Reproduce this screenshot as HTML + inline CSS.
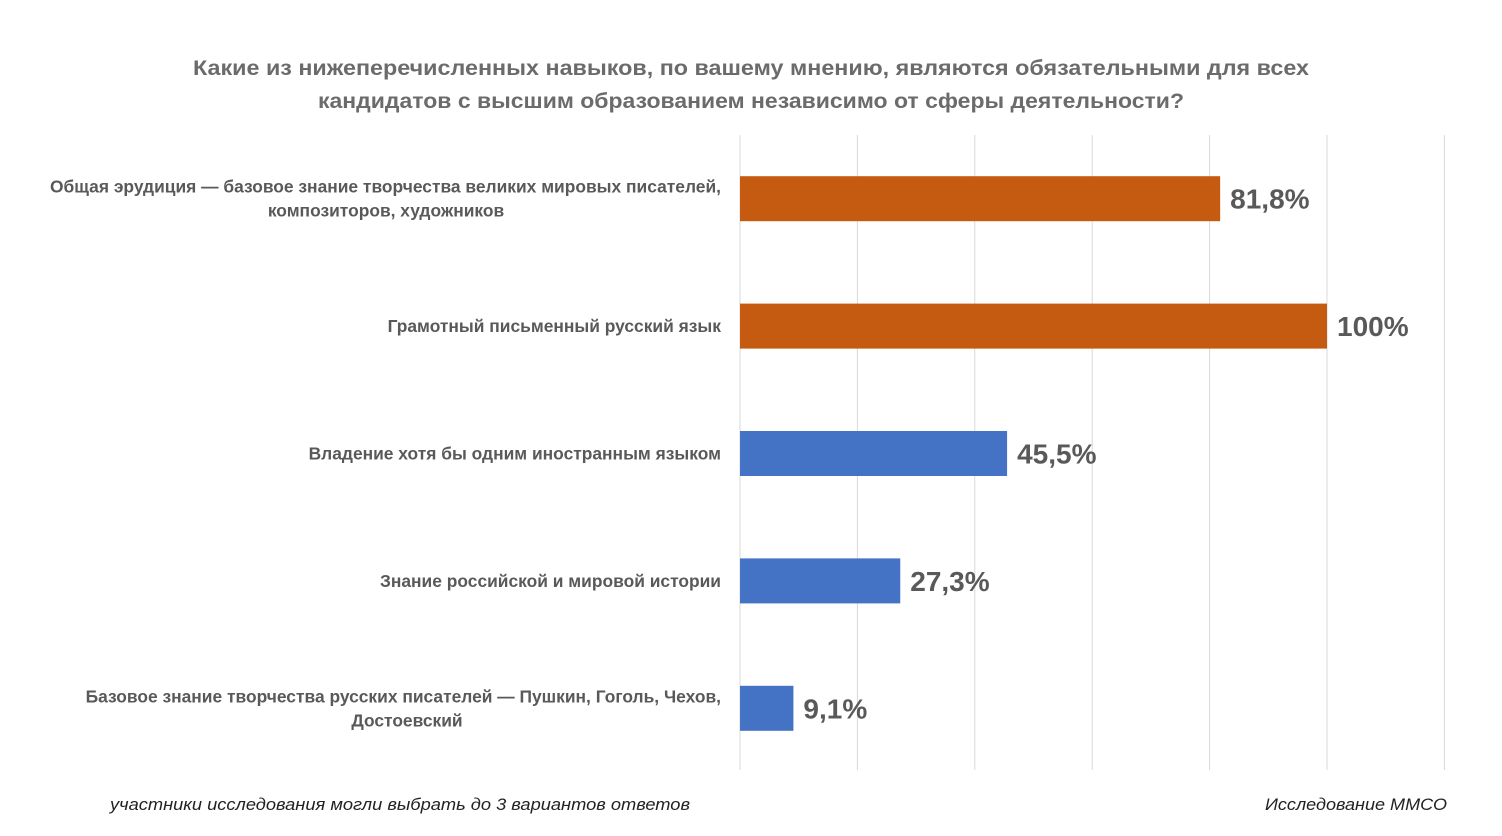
<!DOCTYPE html>
<html><head><meta charset="utf-8"><style>
body{margin:0;width:1502px;height:836px;background:#fff;overflow:hidden;font-family:"Liberation Sans",sans-serif;}
svg{display:block}
</style></head><body>
<svg id="chart" width="1502" height="836">
<text x="751" y="75" text-anchor="middle" font-size="21.5" font-weight="bold" fill="#6b6b6b" textLength="1116" lengthAdjust="spacingAndGlyphs">Какие из нижеперечисленных навыков, по вашему мнению, являются обязательными для всех</text>
<text x="751" y="108" text-anchor="middle" font-size="21.5" font-weight="bold" fill="#6b6b6b" textLength="866" lengthAdjust="spacingAndGlyphs">кандидатов с высшим образованием независимо от сферы деятельности?</text>
<g id="grid"></g><g id="bars"></g><g id="labels"></g>
<text x="110" y="810" font-size="16.5" font-style="italic" fill="#222" textLength="580" lengthAdjust="spacingAndGlyphs">участники исследования могли выбрать до 3 вариантов ответов</text>
<text x="1265" y="810" font-size="16.5" font-style="italic" fill="#222" textLength="182" lengthAdjust="spacingAndGlyphs">Исследование ММСО</text>
</svg>
<script>
const categories=[["Общая эрудиция — базовое знание творчества великих мировых писателей,","композиторов, художников"],["Грамотный письменный русский язык"],["Владение хотя бы одним иностранным языком"],["Знание российской и мировой истории"],["Базовое знание творчества русских писателей — Пушкин, Гоголь, Чехов,","Достоевский"]];
const values=[81.8,100,45.5,27.3,9.1];
const valueLabels=["81,8%","100%","45,5%","27,3%","9,1%"];
const colors=["#C55A11","#C55A11","#4472C4","#4472C4","#4472C4"];
const gridTicks=[0,20,40,60,80,100,120];
const ns="http://www.w3.org/2000/svg";
const x0=740,pxPer=587/100,top0=135,band=127.4,barH=45;
const secondLineCenter=[386,null,null,null,407];
const xs=v=>x0+v*pxPer;
function mk(t,a,p){const e=document.createElementNS(ns,t);for(const k in a)e.setAttribute(k,a[k]);p.appendChild(e);return e;}
const g=document.getElementById('grid'),b=document.getElementById('bars'),l=document.getElementById('labels');
gridTicks.forEach(t=>{const e=mk('line',{x1:xs(t),x2:xs(t),y1:135,y2:770,stroke:'#d9d9d9','stroke-width':1},g);

});
values.forEach((v,i)=>{const yc=top0+band*(i+0.5);
const r=mk('rect',{x:x0,y:yc-barH/2,width:xs(v)-x0,height:barH,fill:colors[i]},b);


const t=mk('text',{x:xs(v)+10,y:yc+10,'font-size':28,'font-weight':'bold',fill:'#595959'},l);
t.textContent=valueLabels[i];


const lines=categories[i];
lines.forEach((s,j)=>{const second=lines.length>1&&j==1;
const c=mk('text',{x:second?secondLineCenter[i]:721,y:yc+6+(j-(lines.length-1)/2)*24,'text-anchor':second?'middle':'end','font-size':17.4,'font-weight':'bold',fill:'#595959'},l);
c.textContent=s;

});});
</script>
</body></html>
